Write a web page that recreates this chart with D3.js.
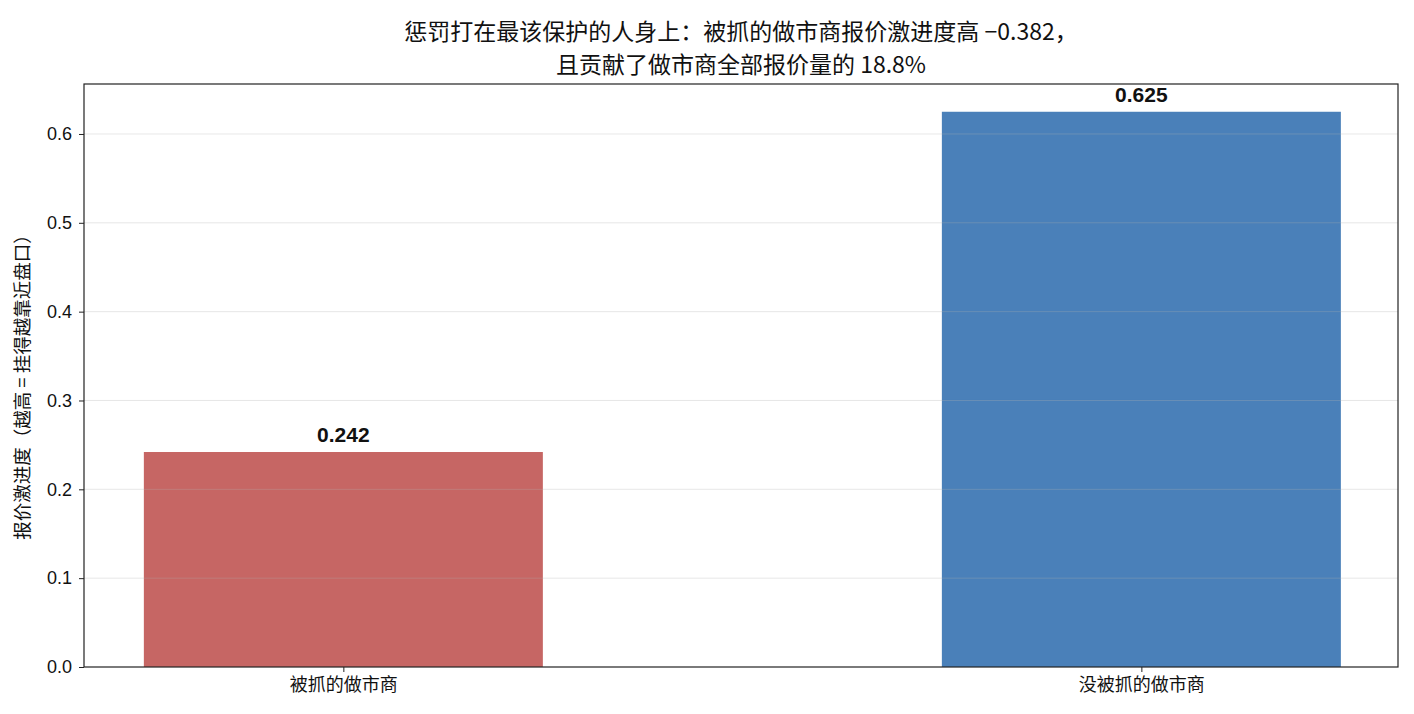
<!DOCTYPE html>
<html>
<head>
<meta charset="utf-8">
<script src="https://cdn.jsdelivr.net/npm/d3@7"></script>
<style>
body { margin: 0; background: #fff; }
text { font-family: "Noto Sans CJK SC", "DejaVu Sans", sans-serif; }
</style>
</head>
<body>
<div id="chart"></div>
<script>
var categories = ["被抓的做市商", "没被抓的做市商"];
var values = [0.242, 0.625];
var barColors = ["#c66664", "#4a80b9"];
var yTicks = [0.0, 0.1, 0.2, 0.3, 0.4, 0.5, 0.6];
var titleLines = ["惩罚打在最该保护的人身上：被抓的做市商报价激进度高 −0.382，", "且贡献了做市商全部报价量的 18.8%"];
var yLabel = "报价激进度（越高 = 挂得越靠近盘口）";

var width = 1414, height = 714;
var margin = {left: 84, right: 16, top: 84, bottom: 47};

var svg = d3.select("#chart").append("svg")
  .attr("width", width)
  .attr("height", height);

// category index on a linear scale, bars 0.5 wide
var x = d3.scaleLinear()
  .domain([-0.325, 1.3216])
  .range([margin.left, width - margin.right]);
var barW = 0.5;

var y = d3.scaleLinear()
  .domain([0, 0.65625])
  .range([height - margin.bottom, margin.top]);

// bars
svg.selectAll("rect.bar")
  .data(values)
  .enter().append("rect")
  .attr("class", "bar")
  .attr("x", function(d, i) { return x(i - barW / 2); })
  .attr("width", function(d, i) { return x(i + barW / 2) - x(i - barW / 2); })
  .attr("y", function(d) { return y(d); })
  .attr("height", function(d) { return y(0) - y(d); })
  .attr("fill", function(d, i) { return barColors[i]; });

// grid on top, faint
svg.append("g")
  .selectAll("line")
  .data(yTicks.slice(1))
  .enter().append("line")
  .attr("x1", margin.left)
  .attr("x2", width - margin.right)
  .attr("y1", function(d) { return y(d); })
  .attr("y2", function(d) { return y(d); })
  .attr("stroke", "#b0b0b0")
  .attr("stroke-opacity", 0.3)
  .attr("stroke-width", 1);

// value labels
svg.selectAll("text.val")
  .data(values)
  .enter().append("text")
  .attr("class", "val")
  .attr("x", function(d, i) { return x(i); })
  .attr("y", function(d) { return y(d) - 10; })
  .attr("text-anchor", "middle")
  .style("font-size", "21px")
  .style("font-weight", "bold")
  .style("font-family", "'Liberation Sans', Arial, sans-serif")
  .attr("fill", "#111")
  .text(function(d) { return d3.format(".3f")(d); });

// frame
svg.append("rect")
  .attr("x", margin.left)
  .attr("y", margin.top)
  .attr("width", width - margin.left - margin.right)
  .attr("height", height - margin.top - margin.bottom)
  .attr("fill", "none")
  .attr("stroke", "#222")
  .attr("stroke-width", 1.2);

// y axis
var yAxis = d3.axisLeft(y)
  .tickValues(yTicks)
  .tickFormat(d3.format(".1f"))
  .tickSize(5)
  .tickPadding(7);
var gy = svg.append("g")
  .attr("transform", "translate(" + margin.left + ",0)")
  .call(yAxis);
gy.select(".domain").remove();
gy.selectAll("line").attr("stroke", "#222");
gy.selectAll("text")
  .style("font-size", "18px")
  .style("font-family", "'Liberation Sans', Arial, sans-serif")
  .attr("fill", "#111");

// x axis
var xAxis = d3.axisBottom(x)
  .tickValues([0, 1])
  .tickFormat(function(d) { return categories[d]; })
  .tickSize(5)
  .tickPadding(6);
var gx = svg.append("g")
  .attr("transform", "translate(0," + (height - margin.bottom) + ")")
  .call(xAxis);
gx.select(".domain").remove();
gx.selectAll("line").attr("stroke", "#222");
gx.selectAll("text")
  .style("font-size", "18px")
  .style("font-family", "'Noto Sans CJK SC', sans-serif")
  .attr("fill", "#111");

// y label
svg.append("text")
  .attr("transform", "translate(29," + ((margin.top + height - margin.bottom) / 2 + 7) + ") rotate(-90)")
  .attr("text-anchor", "middle")
  .style("font-size", "18.5px")
  .attr("fill", "#111")
  .text(yLabel);

// title
svg.selectAll("text.title")
  .data(titleLines)
  .enter().append("text")
  .attr("class", "title")
  .attr("x", (margin.left + width - margin.right) / 2)
  .attr("y", function(d, i) { return 40 + i * 33; })
  .attr("text-anchor", "middle")
  .style("font-size", "23px")
  .attr("fill", "#111")
  .text(function(d) { return d; });
</script>
</body>
</html>
